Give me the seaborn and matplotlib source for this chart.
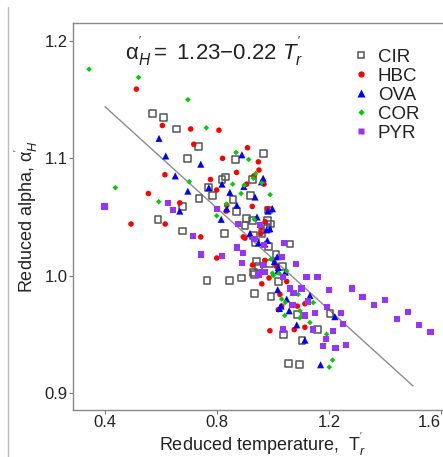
import matplotlib
matplotlib.use("Agg")
import matplotlib.pyplot as plt
import seaborn as sns
import pandas as pd
from matplotlib.lines import Line2D

# ---------------- data ----------------
cir_x = [0.569, 0.610, 0.655, 0.733, 0.696, 0.867, 0.965, 0.818, 0.829, 0.771, 0.785, 0.736,
         0.857, 0.677, 0.870, 0.926, 0.921, 0.589, 0.676, 0.827, 0.904, 0.926, 0.900, 0.981,
         0.990, 0.985, 0.980, 0.961, 0.930, 0.938, 0.983, 1.061, 0.940, 0.948, 1.011, 0.933,
         0.764, 0.846, 0.888, 0.933, 0.993, 0.989, 1.035, 1.019, 1.087, 1.204, 1.037, 1.158,
         1.104, 1.056, 1.096, 0.930]
cir_y = [1.138, 1.135, 1.125, 1.110, 1.100, 1.099, 1.104, 1.082, 1.084, 1.075, 1.068, 1.066,
         1.065, 1.059, 1.055, 1.082, 1.068, 1.048, 1.038, 1.036, 1.049, 1.047, 1.043, 1.047,
         1.044, 1.056, 1.040, 1.036, 1.034, 1.028, 1.025, 1.027, 1.012, 1.008, 1.018, 1.001,
         0.996, 0.996, 0.998, 0.985, 0.982, 1.010, 1.008, 0.995, 0.967, 0.968, 0.950, 0.954,
         0.945, 0.925, 0.924, 1.003]

hbc_x = [0.512, 0.605, 0.706, 0.807, 0.717, 0.909, 0.820, 0.948, 0.950, 0.870, 0.614, 0.932,
         0.777, 0.906, 0.968, 0.799, 0.555, 0.667, 0.835, 0.926, 0.981, 0.493, 0.615, 0.742,
         0.894, 0.957, 0.900, 0.957, 0.972, 0.799, 0.971, 1.012, 0.960, 0.986, 1.049, 1.025,
         1.019, 1.031, 1.087, 1.114, 1.114, 1.076, 0.989, 0.927, 0.833]
hbc_y = [1.159, 1.128, 1.125, 1.124, 1.112, 1.109, 1.100, 1.097, 1.090, 1.088, 1.086, 1.085,
         1.082, 1.078, 1.078, 1.073, 1.070, 1.062, 1.060, 1.059, 1.057, 1.044, 1.044, 1.033,
         1.033, 1.041, 1.032, 1.036, 1.046, 1.015, 1.013, 1.008, 0.993, 0.998, 0.995, 0.984,
         0.971, 0.974, 0.974, 0.976, 0.956, 0.954, 0.953, 1.009, 1.055]

ova_x = [0.593, 0.617, 0.742, 0.889, 0.651, 0.696, 0.771, 0.818, 0.846, 0.896, 0.965, 0.959,
         0.936, 0.667, 0.835, 0.871, 0.998, 0.815, 0.943, 0.918, 0.982, 0.989, 0.977, 0.948,
         0.971, 0.980, 1.005, 1.017, 1.015, 1.019, 1.044, 1.017, 1.029, 1.049, 1.058, 1.132,
         1.221, 1.085, 1.114, 1.170, 1.023]
ova_y = [1.117, 1.102, 1.095, 1.103, 1.085, 1.072, 1.075, 1.078, 1.071, 1.076, 1.083, 1.080,
         1.067, 1.055, 1.057, 1.060, 1.057, 1.048, 1.050, 1.036, 1.055, 1.040, 1.039, 1.028,
         1.027, 1.030, 1.012, 1.004, 1.016, 1.007, 1.003, 0.988, 0.974, 0.980, 0.970, 0.983,
         0.965, 0.958, 0.945, 0.924, 0.972]

cor_x = [0.343, 0.520, 0.696, 0.762, 0.868, 0.913, 0.856, 0.701, 0.886, 0.938, 0.930, 0.960,
         0.897, 0.990, 0.437, 0.592, 0.834, 0.799, 0.933, 0.993, 0.998, 1.001, 1.022, 1.049,
         1.031, 1.090, 1.044, 1.042, 1.096, 1.144, 1.096, 1.132, 1.192, 1.213, 1.201]
cor_y = [1.176, 1.169, 1.150, 1.126, 1.105, 1.099, 1.078, 1.080, 1.070, 1.087, 1.083, 1.079,
         1.077, 1.069, 1.075, 1.063, 1.061, 1.051, 1.048, 1.014, 1.002, 1.000, 1.002, 1.004,
         0.980, 0.984, 0.977, 0.966, 0.970, 0.977, 0.964, 0.960, 0.950, 0.928, 0.922]

pyr_x = [0.398, 0.624, 0.644, 0.799, 0.715, 0.871, 0.742, 0.818, 0.894, 0.888, 0.876, 0.955,
         0.933, 0.967, 1.040, 0.965, 0.948, 0.962, 1.082, 1.031, 1.037, 1.120, 1.159, 1.061,
         1.073, 1.102, 1.201, 1.281, 1.320, 1.361, 1.401, 1.442, 1.483, 1.521, 1.563, 1.070,
         1.126, 1.150, 1.114, 1.192, 1.243, 1.251, 1.037, 1.144, 1.215, 1.189, 1.180, 1.223,
         1.261, 0.971]
pyr_y = [1.059, 1.062, 1.056, 1.057, 1.034, 1.024, 1.018, 1.017, 1.019, 1.011, 1.044, 1.043,
         1.031, 1.026, 1.028, 1.009, 1.001, 1.003, 1.010, 1.016, 0.999, 0.999, 0.999, 0.989,
         0.985, 0.989, 0.988, 0.989, 0.982, 0.975, 0.979, 0.963, 0.969, 0.958, 0.952, 0.975,
         0.978, 0.968, 0.966, 0.973, 0.968, 0.959, 0.954, 0.954, 0.953, 0.946, 0.940, 0.938,
         0.941, 1.003]

groups = ["CIR", "HBC", "OVA", "COR", "PYR"]
fit_x = [0.40, 1.50]
fit_y = [1.144, 0.906]
x_ticks = [0.4, 0.8, 1.2, 1.6]
y_ticks = [0.9, 1.0, 1.1, 1.2]

frames = []
for g, xs, ys in zip(groups, [cir_x, hbc_x, ova_x, cor_x, pyr_x],
                     [cir_y, hbc_y, ova_y, cor_y, pyr_y]):
    frames.append(pd.DataFrame({"T": xs, "alpha": ys, "group": g}))
df = pd.concat(frames, ignore_index=True)

# ---------------- style ----------------
sns.set_theme(style="white")
plt.rcParams["font.family"] = ["Liberation Sans", "DejaVu Sans"]
plt.rcParams["mathtext.fontset"] = "custom"
plt.rcParams["mathtext.rm"] = "Liberation Sans"
plt.rcParams["mathtext.it"] = "Liberation Sans:italic"

fig = plt.figure(figsize=(4.43, 4.57), dpi=100)
ax = fig.add_axes([0.165, 0.103, 0.855, 0.847])

styles = {
    "CIR": dict(marker="s", s=24, facecolor="none", edgecolor="#555555", linewidth=1.1),
    "HBC": dict(marker="o", s=16, color="#ff0000", edgecolor="none"),
    "OVA": dict(marker="^", s=26, color="#0000ff", edgecolor="none"),
    "COR": dict(marker="D", s=8, color="#00cc00", edgecolor="none"),
    "PYR": dict(marker="s", s=20, color="#9933ff", edgecolor="none"),
}

sns.lineplot(x=fit_x, y=fit_y, ax=ax, color="#8c8c8c", linewidth=1.0, zorder=1)
for g in groups:
    sub = df[df["group"] == g]
    sns.scatterplot(data=sub, x="T", y="alpha", ax=ax, legend=False, zorder=3, **styles[g])

ax.set_xlim(0.286, 1.639)
ax.set_ylim(0.8855, 1.2155)
ax.set_xticks(x_ticks)
ax.set_yticks(y_ticks)
ax.set_xticklabels([f"{v:.1f}" for v in x_ticks])
ax.set_yticklabels([f"{v:.1f}" for v in y_ticks])
ax.tick_params(axis="both", which="major", length=3, width=0.8, color="#777777",
               labelsize=12, labelcolor="#222222", pad=1, direction="out")
ax.get_xticklabels()[-1].set_horizontalalignment("right")
ax.xaxis.set_ticks_position("bottom")
ax.yaxis.set_ticks_position("left")
for side in ["left", "top", "bottom"]:
    ax.spines[side].set_color("#888888")
    ax.spines[side].set_linewidth(1.0)
ax.spines["right"].set_visible(False)

ax.set_xlabel(r"Reduced temperature,  T$_r^{'}$", fontsize=13, color="#222222", labelpad=0)
ax.set_ylabel(r"Reduced alpha, $\mathrm{\alpha}_H^{'}$", fontsize=13, color="#222222", labelpad=3)

ax.text(0.79, 1.191, r"$\mathrm{\alpha}_H^{'} =\ $1.23$-$0.22 $T_r^{'}$", fontsize=16,
        ha="center", va="center", color="#222222")

handles = []
for g in groups:
    st = styles[g]
    if g == "CIR":
        h = Line2D([], [], linestyle="none", marker="s", markersize=5, markerfacecolor="none",
                   markeredgecolor="#555555", markeredgewidth=1.1)
    else:
        h = Line2D([], [], linestyle="none", marker=st["marker"],
                   markersize={"HBC": 4.5, "OVA": 5.5, "COR": 3.2, "PYR": 5}[g],
                   markerfacecolor=st["color"], markeredgecolor="none")
    handles.append(h)
ax.legend(handles, groups, loc="upper left", bbox_to_anchor=(0.777, 0.914),
          bbox_transform=fig.transFigure, frameon=False, fontsize=13.5,
          handlelength=0.8, handletextpad=0.5, labelspacing=0.1, borderpad=0,
          labelcolor="#222222")

fig.add_artist(Line2D([0.018, 0.018], [0.0, 0.985], transform=fig.transFigure,
                      color="#bbbbbb", linewidth=1.0))

fig.savefig("out.png", dpi=100)
